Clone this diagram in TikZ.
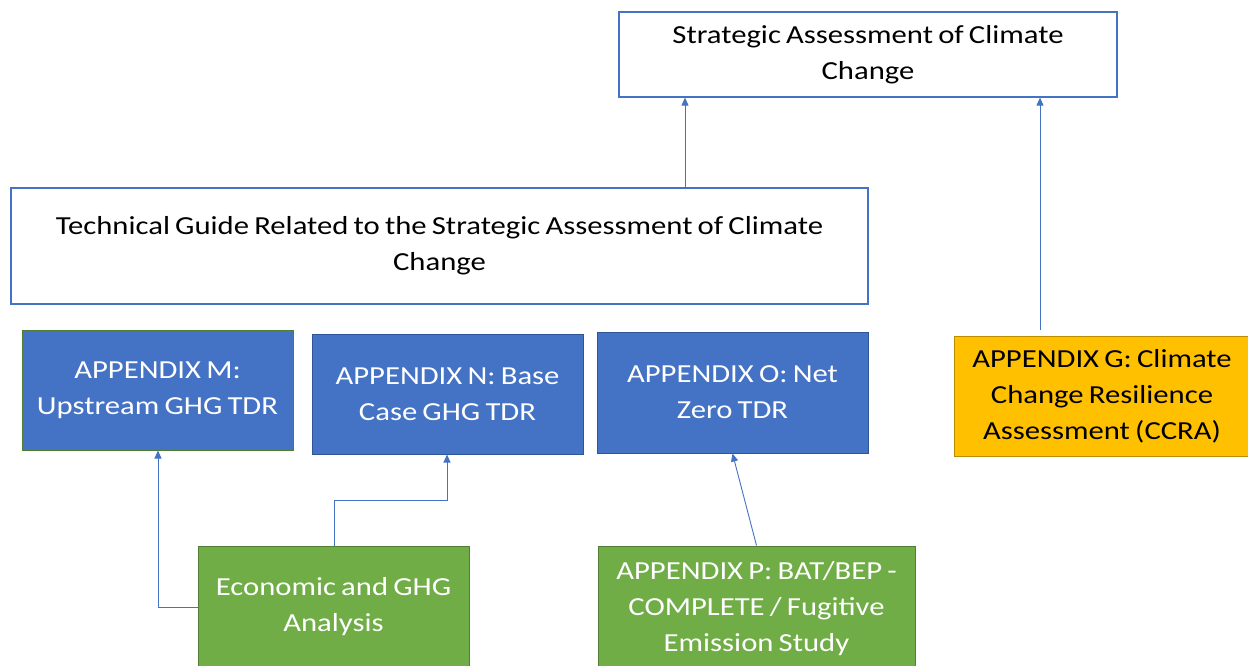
\documentclass[tikz,border=0pt]{standalone}
\usepackage{fontspec}
\setmainfont{Carlito}[FakeStretch=1.18, WordSpace=0.75]
\usetikzlibrary{arrows.meta}
\definecolor{accentblue}{HTML}{4472C4}
\definecolor{blueedge}{HTML}{2F5597}
\definecolor{accentgreen}{HTML}{70AD47}
\definecolor{greenedge}{HTML}{507E32}
\definecolor{accentgold}{HTML}{FFC000}
\definecolor{goldedge}{HTML}{BC8C00}
\begin{document}
\begin{tikzpicture}[x=1pt,y=-1pt,
  every node/.style={font=\fontsize{26}{36}\selectfont, align=center, inner sep=0pt},
  outline/.style={draw=accentblue, line width=1.2pt, fill=white, text=black},
  bluebox/.style={draw=blueedge, line width=1pt, fill=accentblue, text=white},
  greenbox/.style={draw=greenedge, line width=1pt, fill=accentgreen, text=white},
  goldbox/.style={draw=goldedge, line width=1pt, fill=accentgold, text=black},
  link/.style={draw=accentblue, line width=0.9pt, -{Triangle[length=8pt,width=7pt]}}]
\useasboundingbox (0,0) rectangle (1248,665);
\clip (0,0) rectangle (1248,665);

% top-level assessment and the guide beneath it
\node[outline, minimum width=498pt, minimum height=85pt] (sacc) at (868,54.5)
  {Strategic Assessment of Climate\\Change};
\node[outline, minimum width=857pt, minimum height=116pt] (guide) at (439.5,246)
  {Technical Guide Related to the Strategic Assessment of Climate\\Change};

% appendices
\node[greenbox, fill=accentblue, minimum width=271pt, minimum height=120pt] (appm) at (157.5,390)
  {APPENDIX M:\\Upstream GHG TDR};
\node[bluebox, minimum width=271pt, minimum height=120pt] (appn) at (447.5,394)
  {APPENDIX N: Base\\Case GHG TDR};
\node[bluebox, minimum width=271pt, minimum height=121pt] (appo) at (732.5,392.5)
  {APPENDIX O: Net\\Zero TDR};
\node[goldbox, minimum width=296pt, minimum height=120pt] (appg) at (1102,396)
  {APPENDIX G: Climate\\Change Resilience\\Assessment (CCRA)};

% studies feeding the appendices
\node[greenbox, minimum width=271pt, minimum height=122pt] (econ) at (333.5,607)
  {Economic and GHG\\Analysis};
\node[greenbox, minimum width=317pt, minimum height=126pt] (appp) at (756.5,609)
  {APPENDIX P: BAT/BEP -\\COMPLETE / Fugitive\\Emission Study};

% connectors
\draw[link] (guide.north -| 685,0) -- (sacc.south -| 685,0);
\draw[link] (appg.north -| 1040,0) ++(0,-6) -- (sacc.south -| 1040,0);
\draw[link] (econ.west) -| (appm.south -| 158,0);
\draw[link] (econ.north -| 334,0) |- (447,500) -- (appn.south -| 447,0);
\draw[link] (appp.north) -- (appo.south);
\end{tikzpicture}
\end{document}
